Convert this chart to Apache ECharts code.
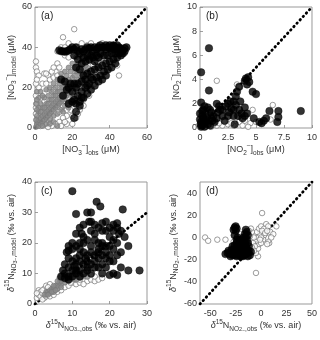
<!DOCTYPE html>
<html>
<head>
<meta charset="utf-8">
<script src="https://cdn.jsdelivr.net/npm/echarts@6/dist/echarts.min.js"></script>
<style>
  html, body { margin: 0; padding: 0; background: #fff; }
  #chart { width: 320px; height: 340px; }
</style>
</head>
<body>
<div id="chart"></div>
<script>
/* ---------- data ---------- */
// (a) nitrate, uM
const aOpen = [[0.5,33],[0.5,30],[1,28],[2,26],[5,27],[7,26],[6,27],[8,24],[4,22],[2,20],[0.5,22],[0.5,16],[0.5,10],[1,24],
  [15,45],[21,49],[14,40],[16,36],[12,32],[13,30],[11,28],[18,35],[20,38],[25,42],[28,41],[30,42],[34,41],[36,42],[40,40],
  [44,38],[47,38],[49,39],[45,26],[44,31],[42,34],[38,36],[34,33],[32,38],[24,38],[26,37],[28,35],[29,38],[31,31],[27,22],
  [25,20],[23,16],[21,12],[19,9],[17,6],[15,5],[13,3],[11,2],[9,1],[7,0.5],[17,2],[20,2],[22,5],[24,9],[26,14],[28,18],
  [30,24],[33,28],[9,28],[10,25],[12,26],[14,25],[6,22],[8,19],[10,19],[3,15],[5,13],[1,12],[2,5],[0.5,7],[4,8],[6,9],
  [13,8],[15,11],[17,9],[19,13],[21,16],[23,20],[25,24],[27,26],[12,38],[16,40],[10,30],[18,42],[22,40],[35,40],[38,33],
  [40,30],[36,26],[32,22],[29,16],[26,11],[23,7],[20,6],[14,1],[16,3],[8,5],[5,2],[3,1],[31,38.5],[42,38],[46,40],[48,37],
  [37,38],[39,37]];
const aGray = [[0.5,0.5],[1,2],[2,1],[1.5,3],[3,2],[2,4],[3,5],[4,3],[4,6],[5,4],[5,7],[6,5],[6,8],[7,6],[7,9],[8,7],[8,10],
  [9,8],[9,11],[10,9],[10,12],[11,10],[11,13],[12,11],[12,14],[13,12],[13,15],[14,13],[14,16],[15,14],[15,17],[16,15],[16,18],
  [17,16],[17,19],[18,17],[18,20],[19,18],[20,21],[21,22],[22,23],[23,24],[24,26],[25,27],[26,28],[27,29],[28,30],[20,25],
  [22,28],[18,24],[16,22],[14,20],[12,18],[10,16],[8,14],[6,12],[4,10],[2,8],[3,12],[5,15],[7,16],[9,18],[11,20],[13,22],
  [15,24],[17,26],[19,28],[21,30],[23,32],[25,34],[28,36],[30,37],[32,36],[27,33],[29,33],[31,34],[2,15],[1,18],[3,18],
  [4,16],[6,19],[8,20],[10,22],[12,24],[14,27],[16,28],[18,30],[20,32],[22,35],[24,36],[1,6],[2,10],[0.5,12],[1,14],[3,8],
  [5,10],[7,12],[9,14],[11,16],[13,18],[15,20],[17,22],[19,23],[21,26],[23,28],[25,30],[27,31],[29,35],[0.5,4],[1,9],[6,2],
  [8,4],[10,6],[12,7],[14,9],[16,11],[18,13],[20,15],[12,1],[10,3],[8,2],[4,1],[15,8],[18,10],[22,19],[24,21],[26,24],
  [33,30],[35,34],[34,37],[36,38]];
const aBlack = [[13,38.5],[14,38],[15,38],[16,37.8],[17,38],[18,38.5],[19,39],[20,40],[21,39],[22,40],[23,38],[24,37],[25,39],
  [26,38],[27,39],[28,40],[29,39.5],[30,40],[31,38],[32,40],[33,39],[34,40],[35,41],[36,40],[37,40],[38,39],[39,40],[40,39.5],
  [41,40],[42,39],[43,40],[44,39],[45,39.5],[46,39],[47,38.5],[48,38],[47,37],[45,37],[43,37],[41,37],[39,36],[37,36],[35,37],
  [33,36],[31,35],[29,34],[27,33],[25,32],[23,34],[21,36],[44,35],[42,34],[40,33],[38,32],[36,31],[34,30],[32,29],[30,28],
  [28,27],[26,26],[24,29],[22,30],[46,36],[43,32],[41,30],[39,29],[37,28],[35,26],[33,25],[31,24],[29,22],[27,20],[25,18],
  [23,16],[21,14],[24,13],[26,15],[28,17],[30,19],[32,21],[34,23],[36,24],[38,26],[30,25],[27,24],[25,23],[22,20],[20,18],
  [18,20],[17,19],[16,23],[14,24],[19,22],[21,22],[23,22],[20,13],[22,12],[24,11],[21,5],[22,8],[25,15],[28,21],[45,40],
  [48,39.5],[49,40],[44,41],[42,41],[40,41],[38,41],[15,16],[18,12],[26,35],[28,36],[30,36],[32,33],[34,35]];

// (b) nitrite, uM
const bOpen = [[1.5,3.9],[3.3,3.6],[3.5,3.4],[6.5,1.9],[6.3,0.7],[2.5,0.3],[2,0.2],[1.5,0.2],[1,0.1],[3,0.2],[3.5,0.5],
  [4,0.6],[4.5,0.4],[5,0.5],[0.5,0.1],[1.7,0.4],[2.8,0.4],[3.8,0.2],[4.3,0.1],[4.7,1.5],[1.2,0.3],[2.2,0.5]];
const bBlack = [[0.8,6.6],[0.1,4.6],[0.8,3.1],[0.1,2.1],[9,1.4],[6.2,1.4],[7,1.4],[7,0.9],[6.9,0.5],[4.1,4.1],[4.3,4.2],
  [4,3.9],[4.4,3.8],[4.2,3.6],[3.5,3.4],[3.3,3],[3.2,2.6],[3.6,2.2],[3,2.2],[4.7,3],[5,2.8],[2.7,2.2],[2.5,2],[2.3,1.8],
  [2,1.5],[1.7,1.8],[1.5,2],[1.8,1.5],[2.8,1.6],[3,1.5],[3.5,1.5],[4,1.7],[4.2,1.2],[3.8,0.8],[4.8,0.8],[5.3,0.5],[5.5,0.4],
  [5.7,0.6],[5.9,0.8],[2.5,1],[1.2,1],[1,0.8],[0.5,1.2],[0.3,1.5],[0.2,1],[0.1,0.5],[0.2,0.2],[0.5,0.5],[0.7,0.3],[0.9,1.5],
  [0.3,0.8],[0.6,0.9],[1.3,0.5],[1.5,0.8],[2,1],[2.2,0.6],[3.1,0.3],[3,1],[3.4,1],[4,1],[0.1,0.1],[0.4,0.1],[0,1.2],[0,0.7],
  [0.05,0.3],[0.4,1.8],[0.7,1.7],[1,1.3],[0.2,1.4],[0.6,0.6],[0.9,0.2],[1.1,0.6],[1.6,1.3],[2.6,1.3],[3.2,1.9],[3.7,1.2]];

// (c) d15N nitrate, permil
const cOpen = [[0.5,2],[1,3],[1,4.5],[1.5,4],[0.5,3.5],[1.5,2.5],[2,3.5],[2.5,2],[2,1.5],[2.5,5],[3,2.5],[2,4.5],[3,6],
  [4,6.5],[4,2.5],[5,3],[6,4],[7,4.5],[8,5.5],[9,6],[10,7],[11,6.5],[12,7],[14,7.5],[15,8],[16,7.5],[17,8],[18,8.5],[13,6.5],
  [14,9],[16,9],[12,8],[11,8],[9.5,7],[15,9.5],[6,5],[5,4],[3.5,5.5]];
const cGray = [[3,4],[3.5,4],[4,4.5],[4,3.5],[4.5,5],[5,5],[5,4],[5.5,6],[6,5],[6,6],[6.5,7],[7,6.5],[7,7.5],[7.5,8],[8,7],
  [8,8],[8.5,8.5],[9,9],[9.5,8.5],[10,9],[10,10],[11,9],[12,10],[6,7.5],[5,6],[4.5,4],[3,3],[2.5,3],[7,9],[8,9.5],[6.5,8.5],
  [9,7.5],[10.5,8],[13,9],[12,8.5],[14,9],[11,8],[7,5.5],[5.5,4.5],[3.5,3]];
const cBlack = [[10,37],[11,29.5],[16.5,33.5],[17.5,32],[14,30],[15,30],[13,26],[14.5,27],[19,27],[18,26.5],[23.5,31],[12,25],
  [11,23],[12.5,23],[16,23],[20,22],[21,24],[22,25],[22.5,23],[10,20],[9,19],[8.5,17],[10,18],[12,18],[13,20],[15,19],[17,20],
  [18,19],[19,19],[16,21],[14,16],[15,17],[17,17],[18,16],[20,16],[21,18],[22,20],[21,14],[19,12],[16,14],[17,12],[14,12],
  [13,13],[12,14],[11,15],[10,14],[9,15],[8,13],[9,12],[10,11],[11,11],[12,11],[13,10],[15,10],[18,10],[20,9.5],[22,9.5],
  [25,11],[28,11],[25,19],[23,17],[24,22],[8,10],[7,9],[9,9],[10,9],[11,10],[12,9],[14,11],[16,12],[7.5,11],[8,8.5],[9,8],
  [18,20],[20,19],[19,17],[22,16],[12,16],[13,17],[16,16],[11,13],[15,13],[17,15],[21,10],[23,12],[14,21],[13,22],[15,24],
  [17,25],[18,24],[19,24],[20,25],[21,26],[22,26.5],[23,24],[16,26],[15,27],[12,20],[9,17.5],[11,19],[14,14],[17,18],[18,13],
  [19,15],[20,14],[10.5,12.5],[13.5,15],[21,21]];

// (d) d15N nitrite, permil
const dOpen = [[-55,0],[-52,-3],[-43,-2],[-35,-2],[-5,-32],[1,22],[-3,-17],[-5,-14],[-3,-10],[-2,-6],[-5,-3],[-3,0],[-1,3],
  [-4,5],[-2,8],[0,10],[3,8],[5,12],[7,10],[9,5],[12,3],[15,10],[8,-5],[7,-3],[5,0],[3,2],[2,-2],[0,-5],[-7,0],[-9,5],[-10,8],
  [-12,6],[-11,1],[-8,-5],[-6,-8],[1,6],[4,4],[6,6],[0,0],[-1,-2],[-14,4],[-18,2],[-20,3],[-23,-3],[-27,-4],[-12,-3],[-9,-9],
  [-7,-12],[10,0],[6,-6]];
const dBlack = [[-26,9],[-25,10],[-24,8],[-25,6],[-27,7],[-15,7],[-14,5],[-16,3],[-15,1],[-14,-2],[-16,-5],[-18,-4],[-20,-5],
  [-22,-6],[-24,-5],[-26,-7],[-28,-8],[-25,-10],[-22,-10],[-20,-12],[-18,-10],[-16,-12],[-14,-10],[-12,-8],[-13,-14],[-15,-15],
  [-17,-16],[-19,-15],[-21,-14],[-23,-14],[-25,-13],[-27,-13],[-29,-14],[-31,-15],[-33,-14],[-35,-15],[-30,-17],[-28,-16],
  [-26,-16],[-24,-17],[-22,-16],[-20,-17],[-18,-17],[-16,-16],[-13,-17],[-11,-16],[-10,-13],[-12,-12],[-19,-8],[-21,-2],
  [-23,0],[-17,0],[-13,-5],[-15,-8],[-27,-11],[-32,-12],[-29,-11],[-24,-2],[-26,2],[-16,-3],[-13,2]];

// 1:1 lines
const oneToOneA = [[0,0],[60,60]];
const oneToOneB = [[0,0],[10,10]];
const oneToOneC = [[0,0],[30,30]];
const oneToOneD = [[-60,-60],[50,50]];

// tick labels
const ticksAX = [0,20,40,60], ticksAY = [0,20,40,60];
const ticksBX = [0,2.5,5,7.5,10], ticksBY = [0,2,4,6,8,10];
const ticksCX = [0,10,20,30], ticksCY = [0,10,20,30,40];
const ticksDX = [-50,-25,0,25,50], ticksDY = [-60,-40,-20,0,20,40];

/* ---------- helpers ---------- */
const FONT = 'Liberation Sans';
const rich = {
  s:  { fontSize: 6.5, fontFamily: FONT, color: '#333', lineHeight: 8, verticalAlign: 'bottom' },
  ss: { fontSize: 5.5, fontFamily: FONT, color: '#333', lineHeight: 6, verticalAlign: 'bottom' },
  p:  { fontSize: 6.5, fontFamily: FONT, color: '#333', lineHeight: 8, verticalAlign: 'top' },
  sp: { fontSize: 5, fontFamily: FONT, color: '#333', lineHeight: 12, verticalAlign: 'bottom' },
  i:  { fontSize: 9, fontFamily: FONT, fontStyle: 'italic', color: '#333' }
};

// ticks: list of shown labels; step: tick step (first entry of ticks
// is a multiple of it, min is a multiple of it too)
function axis(idx, min, max, step, ticks, name, gap, isX, showTick) {
  return {
    type: 'value', gridIndex: idx, min: min, max: max, interval: step,
    name: name, nameLocation: 'middle', nameGap: gap,
    nameRotate: isX ? 0 : 90,
    nameTextStyle: { fontSize: 9, fontFamily: FONT, color: '#333', lineHeight: 14, rich: rich },
    axisLine: { show: false },
    axisTick: { show: showTick, inside: true, length: 3, lineStyle: { color: '#888', width: 0.8 } },
    axisLabel: {
      fontSize: 9, fontFamily: FONT, color: '#333', margin: isX ? 5 : 3,
      showMinLabel: true, showMaxLabel: true,
      formatter: (v) => (ticks.some((t) => Math.abs(t - v) < 1e-9) ? String(v) : '')
    },
    splitLine: { show: false }
  };
}

function scatterSet(idx, open, gray, black, line) {
  const out = [
    { type: 'line', xAxisIndex: idx, yAxisIndex: idx, data: line, symbol: 'none', silent: true, z: 1,
      lineStyle: { color: '#000', width: 2.8, type: [0.6, 4], cap: 'round' } },
    { type: 'scatter', xAxisIndex: idx, yAxisIndex: idx, data: open, symbolSize: 5.5, z: 2,
      itemStyle: { color: '#fff', borderColor: '#777', borderWidth: 0.9 } }
  ];
  if (gray) out.push({ type: 'scatter', xAxisIndex: idx, yAxisIndex: idx, data: gray, symbolSize: 5, z: 3,
      itemStyle: { color: '#8a8a8a', borderColor: '#777', borderWidth: 0.8 } });
  out.push({ type: 'scatter', xAxisIndex: idx, yAxisIndex: idx, data: black, symbolSize: 7.5, z: 4,
      itemStyle: { color: '#000', borderColor: '#000', borderWidth: 0.5 } });
  return out;
}

/* ---------- chart ---------- */
const chart = echarts.init(document.getElementById('chart'), null, { renderer: 'canvas' });

const gridStyle = { show: true, borderColor: '#999', borderWidth: 1, backgroundColor: '#fff' };

chart.setOption({
  animation: false,
  grid: [
    Object.assign({ left: 35, top: 7, width: 112, height: 121 }, gridStyle),
    Object.assign({ left: 200, top: 7, width: 113, height: 121 }, gridStyle),
    Object.assign({ left: 35, top: 182, width: 112, height: 122 }, gridStyle),
    Object.assign({ left: 200, top: 182, width: 113, height: 122 }, gridStyle)
  ],
  xAxis: [
    axis(0, 0, 60, 20, ticksAX, '[NO{s|3}{p|−}]{s|obs} (μM)', 13, true, true),
    axis(1, 0, 10, 2.5, ticksBX, '[NO{s|2}{p|−}]{s|obs} (μM)', 13, true, true),
    axis(2, 0, 30, 10, ticksCX, '{i|δ}{p|15}N{s|NO}{ss|3}{sp|−}{s|,obs} (‰ vs. air)', 12, true, true),
    axis(3, -60, 50, 5, ticksDX, '{i|δ}{p|15}N{s|NO}{ss|2}{sp|−}{s|,obs} (‰ vs. air)', 12, true, false)
  ],
  yAxis: [
    axis(0, 0, 60, 20, ticksAY, '[NO{s|3}{p|−}]{s|model} (μM)', 12, false, true),
    axis(1, 0, 10, 2, ticksBY, '[NO{s|2}{p|−}]{s|model} (μM)', 12, false, true),
    axis(2, 0, 40, 10, ticksCY, '{i|δ}{p|15}N{s|NO}{ss|3}{sp|−}{s|,model} (‰ vs. air)', 12, false, true),
    axis(3, -60, 50, 10, ticksDY, '{i|δ}{p|15}N{s|NO}{ss|2}{sp|−}{s|,model} (‰ vs. air)', 14, false, false)
  ],
  graphic: [
    { type: 'text', left: 41, top: 11, style: { text: '(a)', fontSize: 10, fontFamily: FONT, fill: '#222' } },
    { type: 'text', left: 206, top: 11, style: { text: '(b)', fontSize: 10, fontFamily: FONT, fill: '#222' } },
    { type: 'text', left: 41, top: 186, style: { text: '(c)', fontSize: 10, fontFamily: FONT, fill: '#222' } },
    { type: 'text', left: 206, top: 186, style: { text: '(d)', fontSize: 10, fontFamily: FONT, fill: '#222' } }
  ],
  series: [].concat(
    scatterSet(0, aOpen, aGray, aBlack, oneToOneA),
    scatterSet(1, bOpen, null, bBlack, oneToOneB),
    scatterSet(2, cOpen, cGray, cBlack, oneToOneC),
    scatterSet(3, dOpen, null, dBlack, oneToOneD)
  )
});
</script>
</body>
</html>
